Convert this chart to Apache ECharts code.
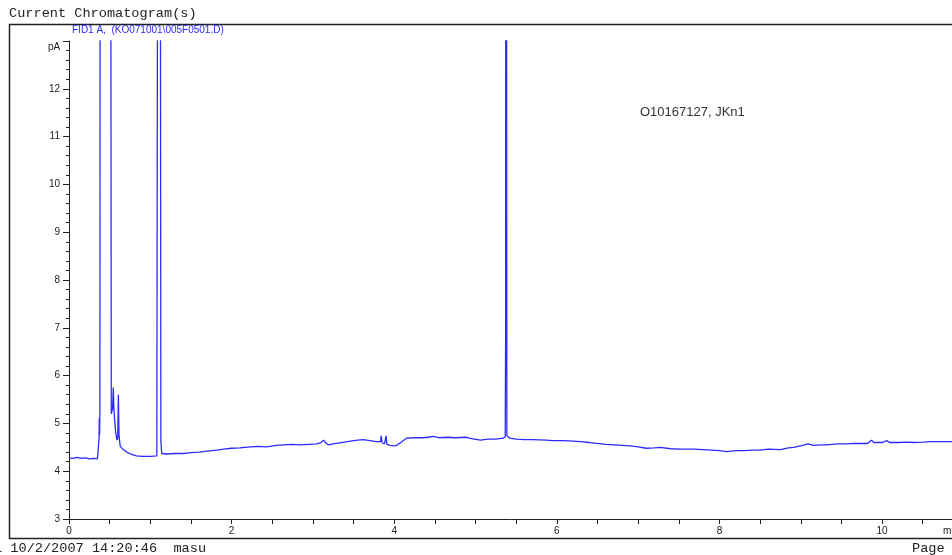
<!DOCTYPE html>
<html>
<head>
<meta charset="utf-8">
<script src="https://cdn.jsdelivr.net/npm/echarts@6/dist/echarts.min.js"></script>
<style>
html,body{margin:0;padding:0;background:#fff;}
#chroma{width:952px;height:555px;}
</style>
</head>
<body>
<div id="chroma"></div>
<script>
// retention time (min) and detector signal (pA)
var times = [0, 0.05, 0.1, 0.15, 0.2, 0.25, 0.3, 0.35, 0.365, 0.37, 0.372, 0.376, 0.38, 0.39,
  0.50, 0.52, 0.535, 0.545, 0.55, 0.56, 0.575, 0.59, 0.6, 0.607, 0.615, 0.63, 0.67, 0.71, 0.77, 0.83,
  0.9, 1.0, 1.08, 1.1, 1.11, 1.125, 1.13, 1.14, 1.2, 1.3, 1.41, 1.5, 1.6, 1.7, 1.82, 1.9,
  2.0, 2.1, 2.23, 2.33, 2.43, 2.55, 2.64, 2.75, 2.85, 2.95, 3.05, 3.10, 3.13, 3.16, 3.19, 3.25,
  3.35, 3.46, 3.55, 3.62, 3.7, 3.78, 3.83, 3.84, 3.85, 3.88, 3.90, 3.91, 3.95, 4.0, 4.03, 4.08,
  4.15, 4.25, 4.35, 4.42, 4.48, 4.55, 4.65, 4.75, 4.89, 4.95, 5.06, 5.15, 5.25, 5.34, 5.365, 5.37,
  5.375, 5.385, 5.42, 5.5, 5.6, 5.7, 5.87, 5.95, 6.08, 6.2, 6.29, 6.4, 6.49, 6.6, 6.7, 6.8,
  6.9, 7.0, 7.1, 7.2, 7.27, 7.4, 7.52, 7.6, 7.68, 7.8, 7.9, 8.0, 8.09, 8.2, 8.3, 8.4,
  8.5, 8.6, 8.75, 8.85, 8.91, 9.0, 9.09, 9.15, 9.25, 9.32, 9.45, 9.57, 9.65, 9.73, 9.82, 9.87,
  9.9, 10.0, 10.06, 10.09, 10.2, 10.3, 10.39, 10.5, 10.6, 10.7, 10.8, 10.86];
var signal = [4.28, 4.27, 4.29, 4.27, 4.28, 4.26, 4.27, 4.26, 4.30, 4.70, 5.10, 4.75, 5.2, 40,
  40, 5.2, 5.3, 5.75, 5.4, 5.1, 4.8, 4.65, 4.7, 5.6, 4.75, 4.52, 4.45, 4.40, 4.35, 4.32,
  4.31, 4.31, 4.32, 4.33, 40, 40, 4.65, 4.37, 4.36, 4.37, 4.37, 4.39, 4.40, 4.42, 4.44, 4.46,
  4.48, 4.49, 4.51, 4.52, 4.51, 4.54, 4.55, 4.56, 4.55, 4.56, 4.57, 4.60, 4.65, 4.59, 4.55, 4.57,
  4.60, 4.63, 4.65, 4.66, 4.64, 4.62, 4.62, 4.74, 4.60, 4.57, 4.74, 4.56, 4.54, 4.53, 4.54, 4.60,
  4.69, 4.70, 4.70, 4.71, 4.73, 4.70, 4.71, 4.70, 4.71, 4.68, 4.65, 4.67, 4.67, 4.69, 4.72, 6.8,
  40, 4.75, 4.69, 4.67, 4.66, 4.66, 4.65, 4.64, 4.64, 4.63, 4.62, 4.60, 4.58, 4.56, 4.55, 4.54,
  4.53, 4.51, 4.48, 4.49, 4.50, 4.47, 4.46, 4.46, 4.46, 4.45, 4.44, 4.43, 4.41, 4.43, 4.43, 4.44,
  4.44, 4.46, 4.45, 4.49, 4.50, 4.53, 4.57, 4.54, 4.55, 4.55, 4.57, 4.57, 4.58, 4.58, 4.58, 4.65,
  4.60, 4.60, 4.64, 4.60, 4.60, 4.61, 4.60, 4.61, 4.62, 4.62, 4.62, 4.62];

var traceData = [];
for (var i = 0; i < times.length; i++) {
    traceData.push([times[i], signal[i]]);
}

var ink = '#222';
var myChart = echarts.init(document.getElementById('chroma'));
var option = {
    backgroundColor: '#fff',
    animation: false,
    grid: {
        left: 69,
        top: 41,
        right: 0,
        height: 478
    },
    xAxis: {
        type: 'value',
        min: 0,
        max: 10.86,
        interval: 2,
        splitLine: {show: false},
        axisLine: {show: true, lineStyle: {color: ink, width: 1}},
        axisTick: {show: true, length: 5, lineStyle: {color: ink}},
        minorTick: {show: true, splitNumber: 4, length: 5, lineStyle: {color: ink}},
        axisLabel: {
            color: ink,
            fontFamily: 'Liberation Sans, Arial, sans-serif',
            fontSize: 10,
            margin: 7,
            showMaxLabel: false
        }
    },
    yAxis: {
        type: 'value',
        min: 3,
        max: 13,
        interval: 1,
        splitLine: {show: false},
        axisLine: {show: true, lineStyle: {color: ink, width: 1}},
        axisTick: {show: true, length: 6, lineStyle: {color: ink}},
        minorTick: {show: true, splitNumber: 5, length: 3, lineStyle: {color: ink}},
        axisLabel: {
            color: ink,
            fontFamily: 'Liberation Sans, Arial, sans-serif',
            fontSize: 10,
            margin: 9,
            formatter: function (v) { return v === 13 ? '' : v; }
        }
    },
    series: [{
        name: 'FID1 A',
        type: 'line',
        data: traceData,
        showSymbol: false,
        clip: true,
        lineStyle: {color: '#2b2bff', width: 1.3}
    }],
    graphic: [
        {
            type: 'rect',
            shape: {x: 9.5, y: 24.5, width: 1000, height: 514},
            style: {fill: 'none', stroke: ink, lineWidth: 1.5},
            silent: true
        },
        {
            type: 'text', left: 9, top: 6,
            style: {text: 'Current Chromatogram(s)', fill: ink,
                font: '13.6px "Liberation Mono", "Courier New", monospace'}
        },
        {
            type: 'text', left: 72, top: 25,
            style: {text: 'FID1 A,  (KO071001\\005F0501.D)', fill: '#2b2bff',
                font: '10px "Liberation Sans", Arial, sans-serif'}
        },
        {
            type: 'text', left: 48, top: 42,
            style: {text: 'pA', fill: ink,
                font: '10px "Liberation Sans", Arial, sans-serif'}
        },
        {
            type: 'text', left: 640, top: 106,
            style: {text: 'O10167127, JKn1', fill: '#333',
                font: '13px "Liberation Sans", Arial, sans-serif'}
        },
        {
            type: 'text', left: 943, top: 526,
            style: {text: 'min', fill: ink,
                font: '10px "Liberation Sans", Arial, sans-serif'}
        },
        {
            type: 'text', left: -6, top: 541,
            style: {text: '1 10/2/2007 14:20:46  masu', fill: ink,
                font: '13.6px "Liberation Mono", "Courier New", monospace'}
        },
        {
            type: 'text', left: 912, top: 541,
            style: {text: 'Page 1 of 1', fill: ink,
                font: '13.6px "Liberation Mono", "Courier New", monospace'}
        }
    ]
};
myChart.setOption(option);
window.onresize = myChart.resize;
</script>
</body>
</html>
